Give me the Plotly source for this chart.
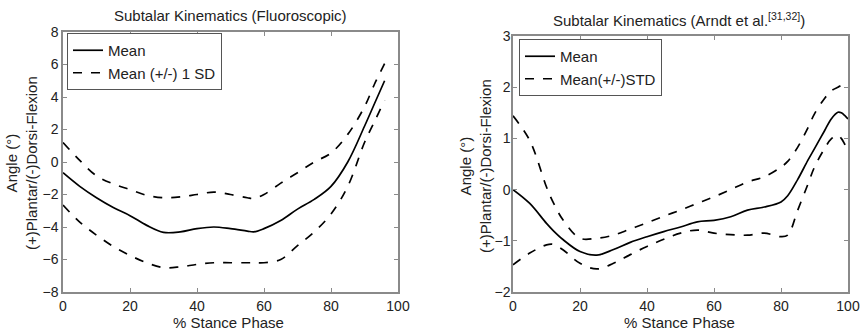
import plotly.graph_objects as go

# Left panel: Fluoroscopic
x_left = [0, 5, 10, 15, 20, 25, 30, 35, 40, 45, 50, 55, 57, 60, 65, 70, 75, 80, 85, 90, 93, 96]
mean_left = [-0.66, -1.5, -2.2, -2.8, -3.3, -3.9, -4.33, -4.3, -4.1, -4.0, -4.1, -4.25, -4.3, -4.1, -3.6, -2.9, -2.3, -1.5, 0.0, 2.2, 3.6, 5.0]
upper_left = [1.2, 0.1, -0.85, -1.35, -1.7, -2.05, -2.2, -2.15, -2.0, -1.85, -2.0, -2.2, -2.25, -2.0, -1.3, -0.66, 0.0, 0.55, 1.7, 3.4, 4.8, 6.05]
lower_left = [-2.65, -3.7, -4.5, -5.2, -5.75, -6.2, -6.5, -6.45, -6.3, -6.2, -6.2, -6.2, -6.2, -6.2, -6.0, -5.15, -4.3, -3.2, -1.5, 1.2, 2.5, 3.8]

# Right panel: Arndt et al.
x_right = [0, 5, 10, 12, 15, 20, 25, 30, 35, 40, 45, 50, 55, 60, 65, 70, 75, 80, 82, 85, 88, 90, 93, 95, 97, 98, 99, 100]
mean_right = [0.0, -0.27, -0.66, -0.8, -0.98, -1.21, -1.28, -1.17, -1.03, -0.92, -0.82, -0.73, -0.63, -0.6, -0.53, -0.4, -0.34, -0.24, -0.12, 0.2, 0.57, 0.8, 1.15, 1.38, 1.51, 1.5, 1.45, 1.38]
upper_right = [1.44, 0.96, 0.05, -0.25, -0.6, -0.95, -0.95, -0.89, -0.77, -0.65, -0.52, -0.4, -0.27, -0.14, 0.0, 0.15, 0.25, 0.44, 0.55, 0.83, 1.2, 1.48, 1.78, 1.93, 2.0, 2.03, 2.01, 1.96]
lower_right = [-1.47, -1.24, -1.08, -1.07, -1.18, -1.44, -1.55, -1.44, -1.27, -1.11, -0.97, -0.85, -0.79, -0.85, -0.88, -0.89, -0.85, -0.92, -0.89, -0.4, 0.1, 0.44, 0.8, 0.99, 1.06, 1.0, 0.89, 0.76]

x_ticks = [0, 20, 40, 60, 80, 100]
y_ticks_left = [-8, -6, -4, -2, 0, 2, 4, 6, 8]
y_ticks_right = [-2, -1, 0, 1, 2, 3]

FONT = "Liberation Sans, Arial, sans-serif"
LINE_W = 1.7
W, H = 864, 332

fig = go.Figure()

# left
fig.add_trace(go.Scatter(x=x_left, y=mean_left, mode="lines", name="Mean",
                         line=dict(color="black", width=LINE_W, shape="spline"),
                         xaxis="x", yaxis="y", legend="legend"))
fig.add_trace(go.Scatter(x=x_left, y=upper_left, mode="lines", name="Mean (+/-) 1 SD",
                         line=dict(color="black", width=LINE_W, dash="dash", shape="spline"),
                         xaxis="x", yaxis="y", legend="legend"))
fig.add_trace(go.Scatter(x=x_left, y=lower_left, mode="lines", name="Mean (+/-) 1 SD",
                         line=dict(color="black", width=LINE_W, dash="dash", shape="spline"),
                         xaxis="x", yaxis="y", legend="legend", showlegend=False))
# right
fig.add_trace(go.Scatter(x=x_right, y=mean_right, mode="lines", name="Mean",
                         line=dict(color="black", width=LINE_W, shape="spline"),
                         xaxis="x2", yaxis="y2", legend="legend2"))
fig.add_trace(go.Scatter(x=x_right, y=upper_right, mode="lines", name="Mean(+/-)STD",
                         line=dict(color="black", width=LINE_W, dash="dash", shape="spline"),
                         xaxis="x2", yaxis="y2", legend="legend2"))
fig.add_trace(go.Scatter(x=x_right, y=lower_right, mode="lines", name="Mean(+/-)STD",
                         line=dict(color="black", width=LINE_W, dash="dash", shape="spline"),
                         xaxis="x2", yaxis="y2", legend="legend2", showlegend=False))

axis_common = dict(showline=True, linecolor="#8a8a8a", linewidth=1.5, mirror="ticks",
                   ticks="inside", ticklen=4, tickcolor="#8a8a8a", showgrid=False,
                   zeroline=False, automargin=False, tickfont=dict(size=14, color="#222"))

L_DOM = [63 / W, 398 / W]
R_DOM = [513 / W, 848 / W]
L_Y = [1 - 292 / H, 1 - 32 / H]
R_Y = [1 - 292 / H, 1 - 36 / H]

def ann(text, x, y, size=15, angle=0):
    return dict(text=text, x=x / W, y=1 - y / H, xref="paper", yref="paper",
                showarrow=False, font=dict(size=size, color="#222"),
                xanchor="center", yanchor="middle", textangle=angle)

fig.update_layout(
    width=W, height=H,
    margin=dict(l=0, r=0, t=0, b=0),
    paper_bgcolor="white", plot_bgcolor="white",
    font=dict(family=FONT, color="#222"),
    xaxis=dict(domain=L_DOM, range=[0, 100], tickvals=x_ticks, anchor="y", **axis_common),
    yaxis=dict(domain=L_Y, range=[-8, 8], tickvals=y_ticks_left, anchor="x", **axis_common),
    xaxis2=dict(domain=R_DOM, range=[0, 100], tickvals=x_ticks, anchor="y2", **axis_common),
    yaxis2=dict(domain=R_Y, range=[-2, 3], tickvals=y_ticks_right, anchor="x2",
                ticklabelstandoff=-2, **axis_common),
    legend=dict(x=67 / W, y=1 - 33 / H, xanchor="left", yanchor="top",
                bordercolor="#555", borderwidth=1, bgcolor="white",
                font=dict(size=15), tracegroupgap=0, itemwidth=30),
    legend2=dict(x=519 / W, y=1 - 39 / H, xanchor="left", yanchor="top",
                 bordercolor="#555", borderwidth=1, bgcolor="white",
                 font=dict(size=15), tracegroupgap=0, itemwidth=30),
    annotations=[
        ann("Subtalar Kinematics (Fluoroscopic)", 230, 15),
        ann("Subtalar Kinematics (Arndt et al.<sup>[31,32]</sup>)", 679, 19),
        ann("% Stance Phase", 228, 322),
        ann("% Stance Phase", 679, 322),
        ann("Angle (°)<br>(+)Plantar/(-)Dorsi-Flexion", 21, 163, angle=-90),
        ann("Angle (°)<br>(+)Plantar/(-)Dorsi-Flexion", 475, 166, angle=-90),
    ],
)

fig.write_html("out.html")
